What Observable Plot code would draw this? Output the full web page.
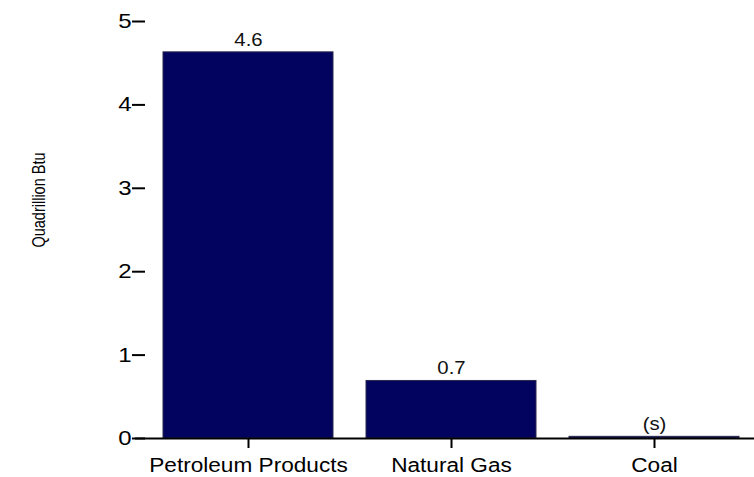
<!DOCTYPE html>
<html><head><meta charset="utf-8">
<script src="https://cdn.jsdelivr.net/npm/d3@7"></script>
<script src="https://cdn.jsdelivr.net/npm/@observablehq/plot@0.6"></script>
<style>
body{margin:0;background:#fff}
svg{font-family:"Liberation Sans",Arial,Helvetica,sans-serif}
</style>
</head><body><div id="chart"></div>
<script>
const categories = ["Petroleum Products", "Natural Gas", "Coal"];
const values = [4.63, 0.69, 0.02];
const valueLabels = ["4.6", "0.7", "(s)"];
const yTicks = [0, 1, 2, 3, 4, 5];
const yLabel = "Quadrillion Btu";

const data = categories.map((c, i) => ({category: c, value: values[i], label: valueLabels[i]}));

const chart = Plot.plot({
  width: 754,
  height: 477,
  marginLeft: 135,
  marginRight: 0,
  marginTop: 21,
  marginBottom: 39,
  style: {fontFamily: '"Liberation Sans", Arial, Helvetica, sans-serif', background: "white", color: "#000"},
  x: {domain: categories, range: [145.25, 755.75], paddingInner: 0.1646, paddingOuter: 0.0823, align: 0.5, label: null},
  y: {domain: [0, 5], label: null},
  marks: [
    Plot.barY(data, {x: "category", y: "value", fill: "#02025f", stroke: "#2b2b4f", strokeWidth: 1}),
    Plot.ruleY([0], {stroke: "#000", strokeWidth: 2}),
    Plot.text(data, {x: "category", y: "value", text: "label", lineAnchor: "bottom", dy: -6.5, fontSize: 18.5, fill: "#111"}),
    Plot.axisX({tickSize: 10, tickPadding: 10, fontSize: 19.5, strokeWidth: 2, label: null}),
    Plot.axisY({ticks: yTicks, tickFormat: d => String(d), tickSize: 13, tickPadding: 1, dx: 10, fontSize: 20, strokeWidth: 2, label: null}),
    Plot.text([yLabel], {frameAnchor: "left", textAnchor: "middle", dx: -97, dy: -30, rotate: -90, fontSize: 14.5, text: d => d, fill: "#000"})
  ]
});
document.getElementById("chart").appendChild(chart);

// the reference's lettering is horizontally wide: widen glyphs around each text anchor
function widenText(filter, sx, sy) {
  chart.querySelectorAll("text").forEach(t => {
    if (!filter(t)) return;
    const tr = t.getAttribute("transform");
    if (tr) t.setAttribute("transform", tr + ` scale(${sx},${sy})`);
  });
}
const groupOf = t => t.parentNode && t.parentNode.getAttribute("aria-label");
widenText(t => groupOf(t) === "x-axis tick label", 1.16, 1);
widenText(t => groupOf(t) === "y-axis tick label", 1.2, 1);
widenText(t => groupOf(t) === "text" && valueLabels.includes(t.textContent), 1.1, 1);
widenText(t => groupOf(t) === "text" && t.textContent === yLabel, 1, 1.3);
</script>
</body></html>
